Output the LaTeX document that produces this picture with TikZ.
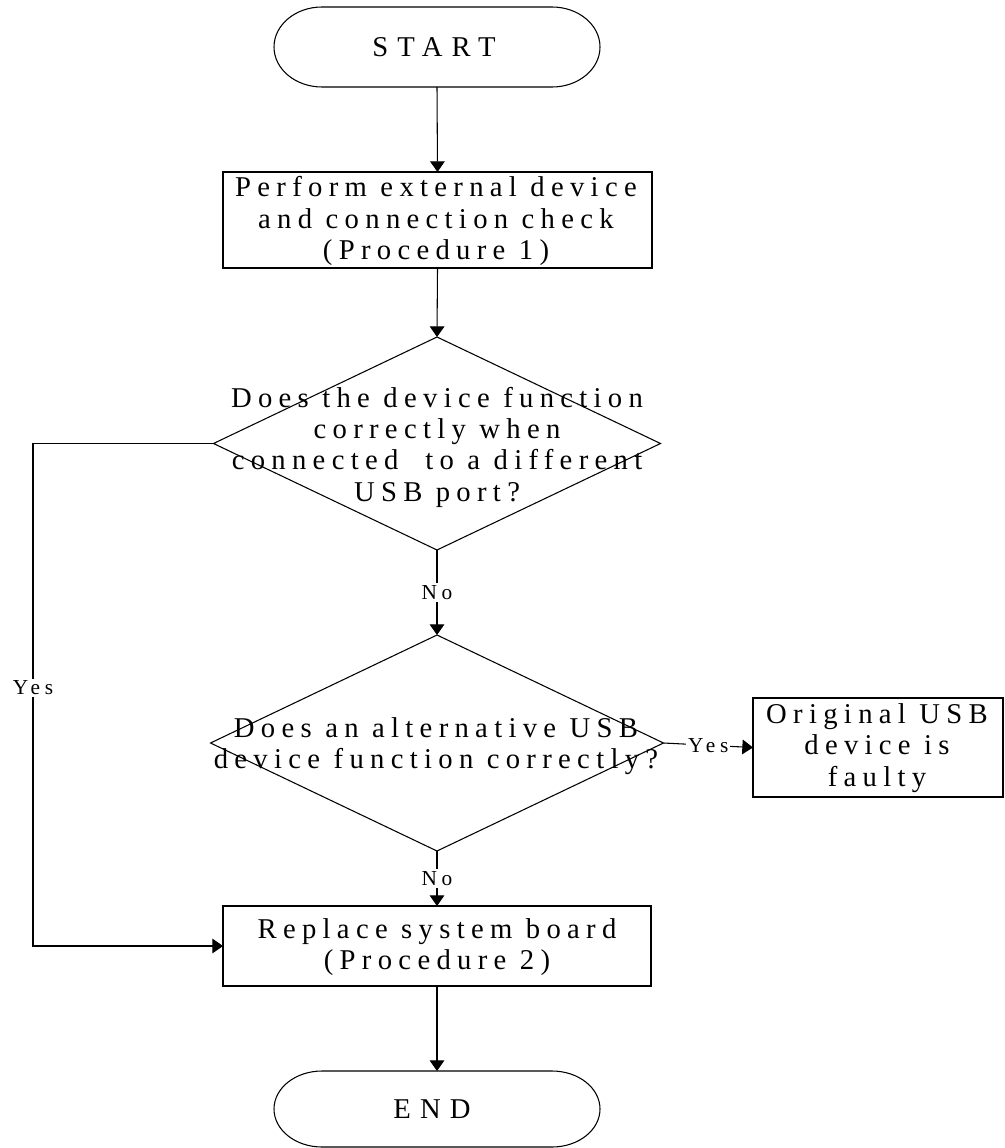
\documentclass[tikz,border=0pt]{standalone}
\usepackage{fontspec}
\setmainfont{Liberation Serif}
\newfontfamily\mainf{Liberation Serif}[LetterSpace=22]
\newfontfamily\capf{Liberation Serif}[LetterSpace=32]
\newfontfamily\labf{Liberation Serif}[LetterSpace=22]
\usetikzlibrary{arrows.meta,shapes.geometric}
\begin{document}
\begin{tikzpicture}[x=0.75pt,y=-0.75pt,
  every node/.style={inner sep=0pt, outer sep=0pt},
  ln/.style={line width=0.8pt, draw=black},
  txt/.style={font=\mainf\fontsize{21.5}{23.5}\selectfont, align=center},
  captxt/.style={font=\capf\fontsize{21.5}{23.5}\selectfont, align=center},
  boxnode/.style={ln, rectangle},
  dianode/.style={ln, diamond},
  arr/.style={ln, -{Triangle[length=8pt,width=11pt]}},
  lab/.style={font=\labf\fontsize{16}{18}\selectfont, fill=white, inner sep=1.5pt}
]
\useasboundingbox (0,0) rectangle (1005,1148);

% START
\node[captxt, minimum width=244.5pt, minimum height=60pt] (start) at (434,47) {START};
\draw[ln] (322,7) -- (552,7) arc[start angle=90, end angle=-90, x radius=36pt, y radius=30pt]
  -- (322,87) arc[start angle=270, end angle=90, x radius=36pt, y radius=30pt] -- cycle;

% Box 1
\node[boxnode, minimum width=321.75pt, minimum height=72pt] (b1) at (437.5,220) {};
\node[txt] (b1t) at (436,221) {Perform external device\\and connection check\\(Procedure 1)};

% Diamond 1
\node[dianode, minimum width=335.25pt, minimum height=159.75pt] (d1) at (437,443.5) {};
\node[txt] (d1t) at (437,447) {Does the device function\\correctly when\\connected \ to a different\\USB port?};

% Diamond 2
\node[dianode, minimum width=339.75pt, minimum height=162pt] (d2) at (437,743) {};
\node[txt] (d2t) at (436,746) {Does an alternative USB\\device function correctly?};

% Box 2
\node[boxnode, minimum width=187.5pt, minimum height=74.25pt] (b2) at (878,747.5) {};
\node[txt] (b2t) at (877,748) {Original USB\\device is\\faulty};

% Box 3
\node[boxnode, minimum width=321pt, minimum height=60pt] (b3) at (437,946) {};
\node[txt] (b3t) at (437,947) {Replace system board\\(Procedure 2)};

% END
\node[captxt, minimum width=244.5pt, minimum height=57pt] (stop) at (432,1109) {END};
\draw[ln] (322,1071) -- (552,1071) arc[start angle=90, end angle=-90, x radius=36pt, y radius=28.5pt]
  -- (322,1147) arc[start angle=270, end angle=90, x radius=36pt, y radius=28.5pt] -- cycle;

% connectors
\coordinate (sb) at (437,87);
\coordinate (et) at (437,1071);
\draw[arr] (sb) -- (b1.north);
\draw[arr] (b1.south) -- (d1.north);
\draw[arr] (d1.south) -- node[lab] {No} (d2.north);
\draw[arr] (d2.east) -- node[lab] {Yes} (b2.west);
\draw[arr] (d2.south) -- node[lab] {No} (b3.north);
\coordinate (lc) at (33,443.5);
\draw[arr] (d1.west) -- (lc) |- node[lab, pos=0.243] {Yes} (b3.west);
\draw[arr] (b3.south) -- (et);
\end{tikzpicture}
\end{document}
